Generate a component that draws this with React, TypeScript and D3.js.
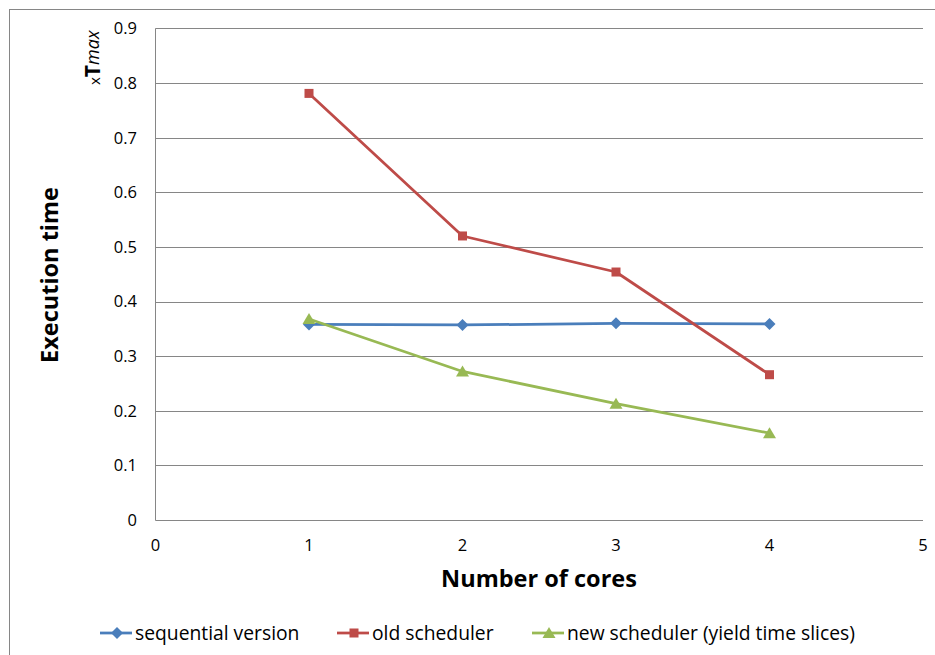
import React from 'react';
import * as d3 from 'd3';

const cores = [1, 2, 3, 4];
const sequentialVersion = [0.358, 0.357, 0.36, 0.359];
const oldScheduler = [0.781, 0.52, 0.454, 0.266];
const newScheduler = [0.368, 0.272, 0.213, 0.159];
const xTicks = [0, 1, 2, 3, 4, 5];
const yTicks = [0, 0.1, 0.2, 0.3, 0.4, 0.5, 0.6, 0.7, 0.8, 0.9];

const seriesList = [
  { name: 'sequential version', values: sequentialVersion, color: '#4A7EBB', marker: 'diamond' },
  { name: 'old scheduler', values: oldScheduler, color: '#BE4B48', marker: 'square' },
  { name: 'new scheduler (yield time slices)', values: newScheduler, color: '#98B954', marker: 'triangle' },
];

const FONT = '"Open Sans", Lato, sans-serif';
const GRID = '#868686';

const Marker: React.FC<{ kind: string; x: number; y: number; color: string }> = ({ kind, x, y, color }) => {
  if (kind === 'diamond') {
    return <path d={`M${x},${y - 6}L${x + 6},${y}L${x},${y + 6}L${x - 6},${y}Z`} fill={color} />;
  }
  if (kind === 'square') {
    return <rect x={x - 4.5} y={y - 4.5} width={9} height={9} fill={color} />;
  }
  return <path d={`M${x},${y - 6}L${x + 6.5},${y + 5}L${x - 6.5},${y + 5}Z`} fill={color} />;
};

const App: React.FC = () => {
  const width = 935;
  const height = 655;

  const xScale = d3.scaleLinear().domain([0, 5]).range([155.5, 923]);
  const yScale = d3.scaleLinear().domain([0, 0.9]).range([520, 28.4]);

  const line = d3.line<number>()
    .x((_, i) => xScale(cores[i]))
    .y((d) => yScale(d));

  // legend swatch start / text start
  const legendItems = [
    { lx: 100, tx: 135 },
    { lx: 337, tx: 372 },
    { lx: 532, tx: 567 },
  ];

  return (
    <svg
      width={width}
      height={height}
      style={{ position: 'absolute', left: 0, top: 0, background: '#fff' }}
      fontFamily={FONT}
    >
      {/* chart frame */}
      <rect x={9.5} y={9.5} width={1000} height={1000} fill="none" stroke={GRID} strokeWidth={1} />

      {/* horizontal gridlines and y labels */}
      {yTicks.map((t) => (
        <g key={t}>
          <line
            x1={xScale(0)}
            x2={xScale(5)}
            y1={Math.round(yScale(t)) + 0.5}
            y2={Math.round(yScale(t)) + 0.5}
            stroke={GRID}
            strokeWidth={1}
          />
          <text x={137} y={yScale(t)} dy="0.36em" textAnchor="end" fontSize={16.5} fill="#000">
            {t === 0 ? '0' : t.toFixed(1)}
          </text>
        </g>
      ))}

      {/* y axis */}
      <line x1={155.5} x2={155.5} y1={yScale(0.9)} y2={yScale(0) + 0.5} stroke={GRID} strokeWidth={1} />

      {/* x labels */}
      {xTicks.map((t) => (
        <text key={t} x={xScale(t)} y={551} textAnchor="middle" fontSize={16.5} fill="#000">
          {t}
        </text>
      ))}

      {/* axis titles */}
      <text x={539} y={587} textAnchor="middle" fontSize={23.5} fontWeight="bold" fill="#000">
        Number of cores
      </text>
      <text
        transform="translate(58,275) rotate(-90)"
        textAnchor="middle"
        fontSize={23.5}
        fontWeight="bold"
        fill="#000"
      >
        Execution time
      </text>
      <text transform="translate(100,85) rotate(-90)" fill="#000">
        <tspan fontSize={15}>x</tspan>
        <tspan fontWeight="bold" fontSize={21}>T</tspan>
        <tspan fontStyle="italic" fontSize={18} dy={-1}>max</tspan>
      </text>

      {/* series */}
      {seriesList.map((s) => (
        <g key={s.name}>
          <path d={line(s.values) || ''} fill="none" stroke={s.color} strokeWidth={2.75} strokeLinejoin="round" />
          {s.values.map((v, i) => (
            <Marker key={i} kind={s.marker} x={xScale(cores[i])} y={yScale(v)} color={s.color} />
          ))}
        </g>
      ))}

      {/* legend */}
      {seriesList.map((s, i) => {
        const item = legendItems[i];
        return (
          <g key={s.name}>
            <line x1={item.lx} x2={item.lx + 32} y1={633} y2={633} stroke={s.color} strokeWidth={2.75} />
            <Marker kind={s.marker} x={item.lx + 17} y={633} color={s.color} />
            <text x={item.tx} y={633} dy="0.36em" fontSize={19.3} fill="#000">
              {s.name}
            </text>
          </g>
        );
      })}
    </svg>
  );
};

export default App;
